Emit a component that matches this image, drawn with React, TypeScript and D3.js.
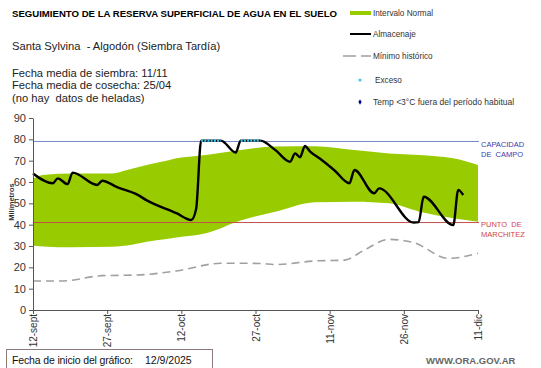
import * as React from "react";
import * as d3 from "d3";

const startDate = new Date(2025, 8, 12);

// dias desde 12-sept
const xTickDays = [0, 15, 30, 45, 60, 75, 90];
const xTickLabels = ["12-sept", "27-sept", "12-oct", "27-oct", "11-nov", "26-nov", "11-dic"];
const yTicks = [0, 10, 20, 30, 40, 50, 60, 70, 80, 90];

// intervalo normal
const bandDays = [0, 2, 8, 16, 19, 23, 27, 29, 35, 42, 49, 57, 65, 72, 78, 85, 90];
const bandUpper = [61.5, 63.3, 64, 64, 65.6, 68, 70, 71.1, 72.7, 75, 76.6, 76.8, 75, 73.4, 72.7, 71.1, 68];
const bandLower = [30.1, 29.8, 29.4, 29.6, 30.2, 32, 33.3, 34, 36, 42, 46, 50.5, 50.8, 50, 46.2, 43, 41.4];

// almacenaje
const almDays = [0, 4, 5, 7, 8, 13, 14, 17, 21, 23, 29, 32, 33, 34, 38, 41, 42, 46, 49, 52, 53, 54, 55, 56, 58, 61, 64, 65, 69, 70, 77, 78, 79, 85, 86, 87];
const almValues = [64, 59.4, 61.7, 59, 64.4, 58.6, 60.6, 57.6, 54.2, 51.4, 45.4, 42.2, 47.5, 79.4, 79.4, 73.8, 79.4, 79.4, 75, 69.5, 73.4, 71.6, 76.9, 74.4, 71, 65.4, 59.4, 65.6, 54.7, 57, 41, 41.2, 53.1, 39.8, 56.3, 53.9];

// minimo historico
const minDays = [0, 6, 14, 21, 29, 38, 42, 46, 49, 57, 63, 67, 72, 77, 84, 90];
const minValues = [13.6, 13.6, 16.1, 16.4, 18.3, 21.9, 21.9, 21.8, 21.3, 23, 23.4, 28.1, 33.1, 31.6, 24.2, 26.6];

// exceso
const excesoTramos = [[34, 38], [42, 46]];
const excesoValue = 79.4;

const capacidadCampo = 79;
const puntoMarchitez = 41;

const FONT = "'Liberation Sans', Arial, sans-serif";

function dayToDate(d) {
  return d3.timeDay.offset(startDate, d);
}

function drawChart(svgRef) {
  const svg = d3.select(svgRef.current);
  svg.selectAll("*").remove();

  const x = d3.scaleTime().domain([dayToDate(0), dayToDate(90)]).range([33, 478]);
  const y = d3.scaleLinear().domain([0, 90]).range([310, 118]);

  svg.append("rect").attr("width", 541).attr("height", 368).attr("fill", "#fff");

  // banda
  const band = bandDays.map((d, i) => ({ d, hi: bandUpper[i], lo: bandLower[i] }));
  svg
    .append("path")
    .datum(band)
    .attr("fill", "#99cc00")
    .attr(
      "d",
      d3
        .area()
        .x((p) => x(dayToDate(p.d)))
        .y0((p) => y(p.lo))
        .y1((p) => y(p.hi))
        .curve(d3.curveMonotoneX)
    );

  // lineas de referencia
  svg
    .append("line")
    .attr("x1", x(dayToDate(0)))
    .attr("x2", x(dayToDate(90)) + 1)
    .attr("y1", y(capacidadCampo))
    .attr("y2", y(capacidadCampo))
    .attr("stroke", "#7486c4")
    .attr("stroke-width", 1);
  svg
    .append("line")
    .attr("x1", x(dayToDate(0)))
    .attr("x2", x(dayToDate(90)) + 1)
    .attr("y1", y(puntoMarchitez))
    .attr("y2", y(puntoMarchitez))
    .attr("stroke", "#c0504d")
    .attr("stroke-width", 1);

  // minimo historico
  svg
    .append("path")
    .datum(minDays.map((d, i) => [d, minValues[i]]))
    .attr("fill", "none")
    .attr("stroke", "#a0a0a0")
    .attr("stroke-width", 1.6)
    .attr("stroke-dasharray", "8,5")
    .attr(
      "d",
      d3
        .line()
        .x((p) => x(dayToDate(p[0])))
        .y((p) => y(p[1]))
        .curve(d3.curveMonotoneX)
    );

  // almacenaje
  svg
    .append("path")
    .datum(almDays.map((d, i) => [d, almValues[i]]))
    .attr("fill", "none")
    .attr("stroke", "#000")
    .attr("stroke-width", 2.4)
    .attr("stroke-linejoin", "round")
    .attr(
      "d",
      d3
        .line()
        .x((p) => x(dayToDate(p[0])))
        .y((p) => y(p[1]))
        .curve(d3.curveMonotoneX)
    );

  // exceso
  excesoTramos.forEach((t) => {
    svg
      .append("line")
      .attr("x1", x(dayToDate(t[0])))
      .attr("x2", x(dayToDate(t[1])))
      .attr("y1", y(excesoValue))
      .attr("y2", y(excesoValue))
      .attr("stroke", "#3cc8f0")
      .attr("stroke-width", 2.2)
      .attr("stroke-dasharray", "2,1.2");
  });

  // ejes
  const yAxis = svg
    .append("g")
    .attr("transform", "translate(33,0)")
    .call(d3.axisLeft(y).tickValues(yTicks).tickSize(4).tickSizeOuter(0).tickPadding(3));
  yAxis.select(".domain").attr("stroke", "#555");
  yAxis.selectAll(".tick line").attr("stroke", "#555");
  yAxis.selectAll("text").attr("font-family", FONT).attr("font-size", 11).attr("fill", "#333");

  const xAxis = svg
    .append("g")
    .attr("transform", "translate(0,310)")
    .call(
      d3
        .axisBottom(x)
        .tickValues(xTickDays.map(dayToDate))
        .tickFormat((d, i) => xTickLabels[i])
        .tickSize(4)
        .tickSizeOuter(0)
    );
  xAxis.select(".domain").attr("stroke", "#555");
  xAxis.selectAll(".tick line").attr("stroke", "#555");
  xAxis
    .selectAll("text")
    .attr("font-family", FONT)
    .attr("font-size", 10)
    .attr("fill", "#333")
    .attr("transform", "rotate(-90)")
    .attr("text-anchor", "end")
    .attr("x", -4)
    .attr("y", 0)
    .attr("dy", "0.35em");

  svg
    .append("text")
    .attr("transform", "translate(11,202) rotate(-90)")
    .attr("text-anchor", "middle")
    .attr("dy", "0.35em")
    .attr("font-family", FONT)
    .attr("font-size", 7.5)
    .attr("font-weight", "bold")
    .attr("fill", "#333")
    .text("Milímetros");

  // etiquetas de referencia
  const refLabel = (txt, yy, color) =>
    svg
      .append("text")
      .attr("x", 481)
      .attr("y", yy)
      .attr("font-family", FONT)
      .attr("font-size", 7.5)
      .attr("fill", color)
      .attr("xml:space", "preserve")
      .text(txt);
  refLabel("CAPACIDAD", 147, "#3b3bb0");
  refLabel("DE  CAMPO", 157, "#3b3bb0");
  refLabel("PUNTO  DE", 227, "#d04545");
  refLabel("MARCHITEZ", 237, "#d04545");

  // textos de cabecera
  const txt = (s, xx, yy, size, weight, color) =>
    svg
      .append("text")
      .attr("x", xx)
      .attr("y", yy)
      .attr("font-family", FONT)
      .attr("font-size", size)
      .attr("font-weight", weight)
      .attr("fill", color)
      .attr("xml:space", "preserve")
      .text(s);
  txt("SEGUIMIENTO DE LA RESERVA SUPERFICIAL DE AGUA EN EL SUELO", 12, 17, 9.6, "bold", "#000");
  txt("Santa Sylvina  - Algodón (Siembra Tardía)", 12, 50, 11.2, "normal", "#222");
  txt("Fecha media de siembra: 11/11", 12, 77, 11.2, "normal", "#222");
  txt("Fecha media de cosecha: 25/04", 12, 89, 11.2, "normal", "#222");
  txt("(no hay  datos de heladas)", 12, 102, 11.2, "normal", "#222");

  // leyenda
  svg.append("rect").attr("x", 350).attr("y", 11).attr("width", 21).attr("height", 4).attr("fill", "#99cc00");
  txt("Intervalo Normal", 373, 16, 8.2, "normal", "#333");
  svg.append("line").attr("x1", 350).attr("x2", 371).attr("y1", 34).attr("y2", 34).attr("stroke", "#000").attr("stroke-width", 2);
  txt("Almacenaje", 373, 37, 8.2, "normal", "#333");
  svg.append("line").attr("x1", 343).attr("x2", 371).attr("y1", 56).attr("y2", 56).attr("stroke", "#a0a0a0").attr("stroke-width", 1.5).attr("stroke-dasharray", "13,5");
  txt("Mínimo histórico", 373, 59, 8.2, "normal", "#333");
  svg.append("circle").attr("cx", 360).attr("cy", 80).attr("r", 1.5).attr("fill", "#3cc8f0");
  txt("Exceso", 375, 83, 8.2, "normal", "#333");
  svg.append("path").attr("d", d3.symbol(d3.symbolDiamond, 9)()).attr("transform", "translate(360,102)").attr("fill", "#000099");
  txt("Temp <3°C fuera del período habitual", 373, 105, 8.5, "normal", "#333");

  // pie
  svg.append("rect").attr("x", 6.5).attr("y", 349.5).attr("width", 206).attr("height", 22).attr("fill", "#fff").attr("stroke", "#8a7a7a");
  txt("Fecha de inicio del gráfico:", 12, 364, 10.5, "normal", "#111").attr("textLength", 121);
  txt("12/9/2025", 145, 364, 10.5, "normal", "#111");
  txt("WWW.ORA.GOV.AR", 426, 364, 9.5, "bold", "#666");
}

const App = () => {
  const svgRef = React.useRef(null);

  React.useEffect(() => {
    drawChart(svgRef);
  }, [svgRef]);

  return (
    <div id="chart" style={{ position: "absolute", left: 0, top: 0 }}>
      <svg ref={svgRef} width={541} height={368} style={{ display: "block" }} />
    </div>
  );
};

export default App;
